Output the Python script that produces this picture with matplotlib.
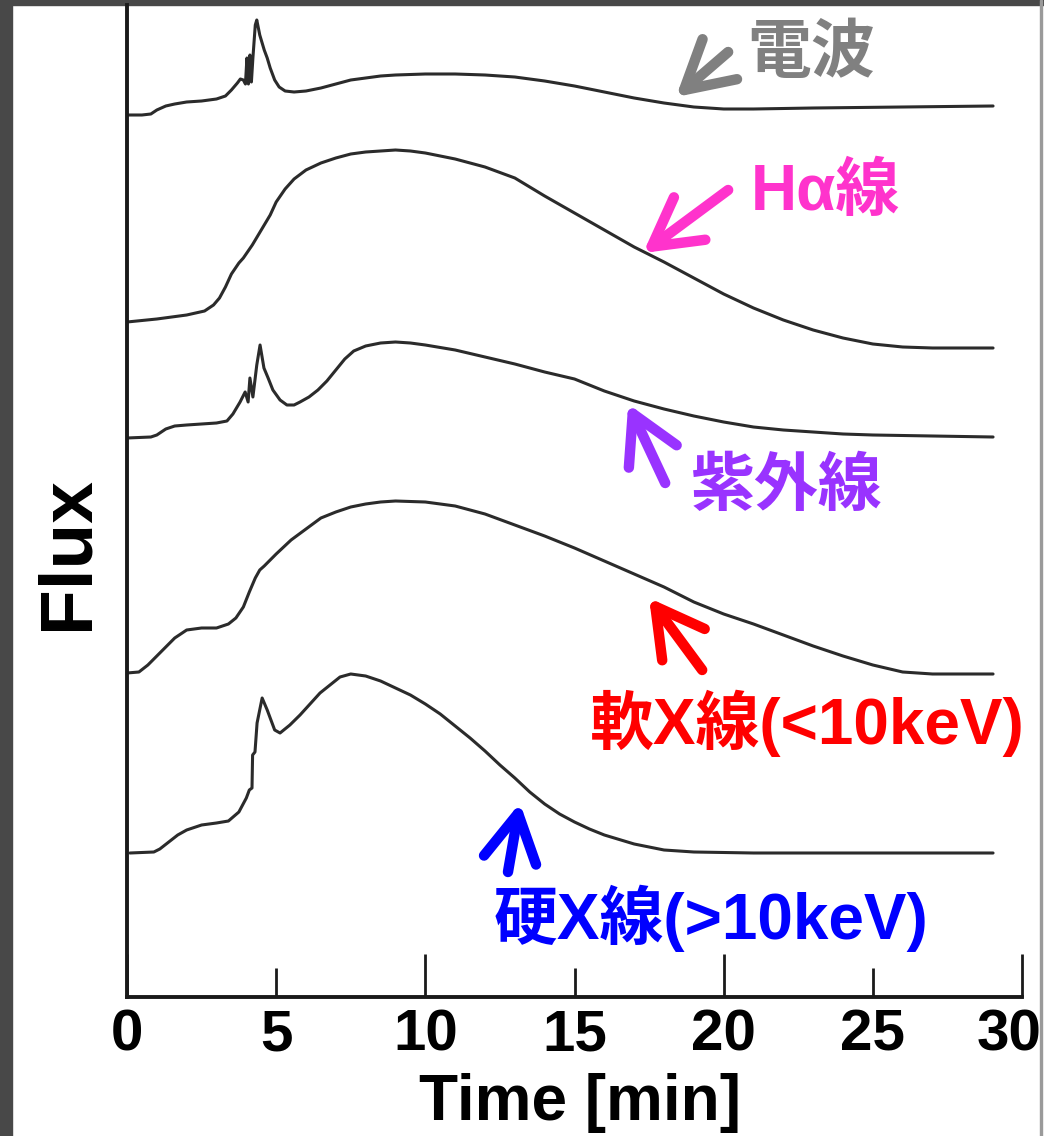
import matplotlib
matplotlib.use("Agg")
import matplotlib.pyplot as plt
from matplotlib.patches import Rectangle

plt.rcParams['font.family'] = ['Liberation Sans', 'Noto Sans CJK JP', 'DejaVu Sans']
plt.rcParams['font.weight'] = 'bold'

# Light curves of a solar flare.
# time in minutes, flux in arbitrary units (curves already stacked)
radio_t = [0, 0.5, 0.8, 1.0, 1.3, 1.6, 2.0, 2.5, 3.0, 3.3,
           3.5, 3.7, 3.8, 3.9, 3.97, 4.02, 4.07, 4.12, 4.17, 4.22,
           4.3, 4.35, 4.45, 4.6, 4.7, 4.8, 4.95, 5.1, 5.3, 5.6,
           6.0, 6.5, 7.0, 7.5, 8.0, 8.5, 9.0, 10, 11, 12,
           13, 14, 15, 16, 17, 18, 19, 20, 21, 23, 26, 29.03]
radio_f = [88.2, 88.2, 88.3, 88.7, 89.1, 89.3, 89.5, 89.6, 89.8, 90.1,
           90.7, 91.4, 91.8, 91.7, 91.3, 93.9, 91.3, 94.2, 91.5, 93.9,
           97.2, 97.7, 96.2, 94.7, 93.9, 92.9, 91.7, 91.0, 90.6, 90.5,
           90.6, 90.9, 91.3, 91.7, 91.9, 92.1, 92.2, 92.3, 92.3, 92.2,
           92.0, 91.6, 91.1, 90.5, 89.9, 89.4, 89.0, 88.8, 88.8, 88.9, 89.0, 89.1]

halpha_t = [0, 1, 2, 2.6, 2.9, 3.1, 3.3, 3.5, 3.75, 3.9,
            4.2, 4.5, 4.8, 5.0, 5.3, 5.6, 6.0, 6.5, 7, 7.5,
            8, 8.5, 9, 9.5, 10, 11, 12, 13, 14, 15,
            16, 17, 18, 19, 20, 21, 22, 23, 24, 25, 26, 27, 29.03]
halpha_f = [67.5, 67.8, 68.2, 68.6, 69.2, 69.9, 71.0, 72.3, 73.4, 73.9,
            75.2, 76.7, 78.2, 79.5, 80.8, 81.8, 82.7, 83.4, 83.9, 84.3,
            84.5, 84.6, 84.7, 84.6, 84.4, 83.8, 83.0, 81.9, 80.1, 78.4,
            76.7, 75.0, 73.5, 71.9, 70.3, 68.9, 67.7, 66.7, 65.9, 65.3, 65.0, 64.9, 64.9]

uv_t = [0, 0.8, 1.0, 1.3, 1.6, 2, 2.5, 3, 3.35, 3.55,
        3.79, 3.96, 4.06, 4.12, 4.22, 4.35, 4.46, 4.59, 4.73, 4.89,
        5.13, 5.36, 5.6, 5.8, 6.1, 6.4, 6.7, 7.0, 7.3, 7.6,
        8, 8.5, 9, 9.5, 10, 11, 12, 13, 14, 15,
        16, 17, 18, 19, 20, 21, 22, 23, 24, 25, 27, 29.03]
uv_f = [55.9, 56.0, 56.2, 56.8, 57.1, 57.2, 57.3, 57.4, 57.6, 58.3,
        59.5, 60.5, 59.5, 61.9, 60.0, 63.2, 65.2, 62.9, 61.9, 60.7,
        59.7, 59.2, 59.2, 59.5, 60.0, 60.7, 61.6, 62.7, 63.8, 64.6,
        65.1, 65.4, 65.5, 65.4, 65.2, 64.7, 64.0, 63.3, 62.5, 61.8,
        60.6, 59.6, 58.8, 58.1, 57.5, 57.0, 56.7, 56.5, 56.3, 56.2, 56.1, 56.0]

soft_t = [0, 0.4, 0.7, 1.0, 1.3, 1.6, 2.0, 2.5, 3.0, 3.4,
          3.65, 3.9, 4.1, 4.3, 4.45, 4.6, 5, 5.5, 6, 6.5,
          7, 7.5, 8, 8.5, 9, 10, 11, 12, 13, 14,
          15, 16, 17, 18, 19, 20, 21, 22, 23, 24, 25, 26, 27, 29.03]
soft_f = [32.4, 32.5, 33.2, 34.1, 35.0, 35.9, 36.7, 36.9, 36.9, 37.3,
          37.9, 39.0, 40.5, 41.9, 42.7, 43.1, 44.3, 45.7, 46.8, 47.9,
          48.5, 49.0, 49.3, 49.5, 49.6, 49.5, 49.1, 48.3, 47.2, 46.1,
          44.9, 43.6, 42.3, 41.0, 39.5, 38.3, 37.3, 36.2, 35.1, 34.1, 33.2, 32.5, 32.3, 32.3]

hard_t = [0.1, 0.9, 1.1, 1.4, 1.7, 2.0, 2.5, 3.0, 3.4, 3.75,
          4.0, 4.1, 4.19, 4.21, 4.29, 4.36, 4.53, 4.7, 4.95, 5.13,
          5.46, 5.8, 6.47, 7.14, 7.5, 8, 8.5, 9, 9.5, 10,
          10.5, 11, 11.5, 12, 12.5, 13, 13.5, 14, 14.5, 15,
          15.5, 16, 17, 18, 19, 21, 29.03]
hard_f = [14.4, 14.5, 14.8, 15.5, 16.2, 16.7, 17.2, 17.4, 17.6, 18.5,
          19.9, 20.7, 20.9, 24.2, 24.5, 27.4, 29.9, 28.7, 26.7, 26.4,
          27.2, 28.2, 30.4, 32.0, 32.3, 32.1, 31.6, 30.9, 30.2, 29.3,
          28.3, 27.1, 25.9, 24.6, 23.2, 21.9, 20.5, 19.3, 18.3, 17.5,
          16.8, 16.2, 15.3, 14.7, 14.5, 14.4, 14.4]

series = [(radio_t, radio_f), (halpha_t, halpha_f), (uv_t, uv_f),
          (soft_t, soft_f), (hard_t, hard_f)]

label_texts = ['電波', 'Hα線', '紫外線', '軟X線(<10keV)', '硬X線(>10keV)']
label_colors = ['#808080', '#ff33cc', '#9933ff', '#ff0000', '#0000ff']

# annotation placement: arrow tip, arrow tail, text anchor (left, centre)
arrow_tips = [(18.40, 90.0), (17.30, 74.4), (16.80, 59.3), (17.50, 39.9), (13.17, 19.4)]
arrow_tails = [(20.15, 94.5), (20.15, 80.7), (18.04, 51.4), (19.28, 32.7), (12.77, 12.5)]
text_pos = [(20.80, 94.2), (20.92, 80.4), (18.90, 50.9), (15.52, 27.4), (12.28, 7.9)]

fig = plt.figure(figsize=(10.44, 11.36), dpi=100)
fig.patch.set_facecolor('white')

# dark frame of the original screenshot
fig.add_artist(Rectangle((0, 0), 12 / 1044, 1, transform=fig.transFigure,
                         color='#484848', zorder=0))
fig.add_artist(Rectangle((0, 1 - 5 / 1136), 1, 5 / 1136, transform=fig.transFigure,
                         color='#484848', zorder=0))
fig.add_artist(Rectangle((1040 / 1044, 0), 2 / 1044, 1, transform=fig.transFigure,
                         color='#9a9a9a', zorder=0))

ax = fig.add_axes([127 / 1044, 1 - 997 / 1136, 895 / 1044, 992 / 1136])
ax.set_xlim(0, 30)
ax.set_ylim(0, 99.2)
ax.patch.set_alpha(0)

for t, f in series:
    ax.plot(t, f, color='#2b2b2b', lw=2.2, solid_capstyle='round',
            solid_joinstyle='round')

for txt, col, tip, tail, pos in zip(label_texts, label_colors, arrow_tips,
                                    arrow_tails, text_pos):
    ax.annotate('', xy=tip, xytext=tail,
                arrowprops=dict(arrowstyle='->, head_length=1.7, head_width=0.95',
                                mutation_scale=20, lw=7.5, color=col,
                                shrinkA=0, shrinkB=0, capstyle='round',
                                joinstyle='round'))
    ax.text(pos[0], pos[1], txt, color=col, fontsize=46, fontweight='bold',
            ha='left', va='center')

for s in ['top', 'right']:
    ax.spines[s].set_visible(False)
for s in ['left', 'bottom']:
    ax.spines[s].set_linewidth(2.8)
    ax.spines[s].set_color('#1a1a1a')

tick_pad = 8
ax.set_yticks([])
ax.set_xticks([0, 10, 20, 30])
ax.set_xticks([5, 15, 25], minor=True)
ax.set_xticklabels(['0', '10', '20', ''])
ax.set_xticklabels(['5', '15', '25'], minor=True)
ax.tick_params(axis='x', which='major', direction='in', length=31, width=2,
               color='#1a1a1a', labelsize=42, pad=tick_pad)
ax.tick_params(axis='x', which='minor', direction='in', length=21, width=2,
               color='#1a1a1a', labelsize=42, pad=tick_pad)
for lab in ax.get_xticklabels(which='both'):
    lab.set_fontweight('bold')
# the last label sits a little left of its tick in the original
trans, va, _ = ax.get_xaxis_text1_transform(tick_pad)
ax.text(29.55, 0, '30', transform=trans, va=va, ha='center', fontsize=42,
        fontweight='bold')

fig.text(580 / 1044, 1 - 1120 / 1136, 'Time [min]', fontsize=46, fontweight='bold',
         ha='center', va='baseline')
fig.text(68 / 1044, 1 - 553 / 1136, 'Flux', fontsize=54, fontweight='bold',
         rotation=90, ha='center', va='center')

fig.savefig('out.png', dpi=100)
